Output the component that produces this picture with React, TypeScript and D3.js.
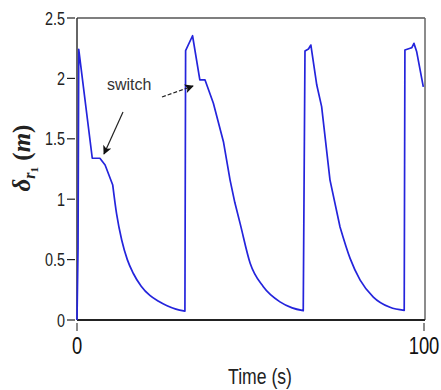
import React from "react";
import * as d3 from "d3";

const time = [
  0, 0.3, 0.5, 4.4, 6.6, 8.1, 10.3, 11.4, 12.9, 14.5, 16.2, 18.5, 21, 23.5, 25.8, 28.5, 31.1,
  31.3, 33.3, 35.4, 36.9, 39.3, 42.2, 44.1, 45.5, 47.0, 49.9, 53.7, 58.5, 62, 65.2,
  65.7, 66.7, 67.4, 69.1, 70.5, 72.9, 75.8, 78.7, 81.6, 85.4, 90.2, 94.3,
  94.5, 96.0, 96.5, 97.1, 97.9, 99.8,
];
const delta = [
  0, 0.6, 2.24, 1.339, 1.339, 1.283, 1.117, 0.88, 0.66, 0.5, 0.387, 0.28, 0.203, 0.155, 0.12, 0.09, 0.074,
  2.23, 2.353, 1.987, 1.987, 1.794, 1.476, 1.16, 0.97, 0.8, 0.47, 0.275, 0.15, 0.1, 0.077,
  2.227, 2.243, 2.276, 1.945, 1.766, 1.16, 0.77, 0.51, 0.33, 0.19, 0.105, 0.08,
  2.235, 2.25, 2.255, 2.29, 2.22, 1.93,
];
const yTicks = [0, 0.5, 1, 1.5, 2, 2.5];
const yTickLabels = ["0", "0.5", "1", "1.5", "2", "2.5"];
const xTicks = [0, 100];
const xTickLabels = ["0", "100"];
const annotationText = "switch";

const SANS = "'Liberation Sans', Arial, sans-serif";

function Narrow(props: { x: number; y: number; size: number; anchor: string; fill: string; children: React.ReactNode }) {
  return (
    <g transform={`translate(${props.x},${props.y}) scale(0.8,1)`}>
      <text x={0} y={0} textAnchor={props.anchor as any} fontFamily={SANS} fontSize={props.size} fill={props.fill}>
        {props.children}
      </text>
    </g>
  );
}

export default function App() {
  const W = 441, H = 390;
  const x = d3.scaleLinear().domain([0, 100]).range([77, 424]);
  const y = d3.scaleLinear().domain([0, 2.5]).range([320, 18]);
  const pts = time.map((t, i) => [t, delta[i]] as [number, number]);

  // split into runs: sharp (rises/peaks) drawn linear, smooth (decays) drawn monotone
  const runs: { smooth: boolean; data: [number, number][] }[] = [];
  for (let i = 0; i < pts.length - 1; i++) {
    const a = pts[i][1], b = pts[i + 1][1];
    const smooth = a < 1.15 && b < 1.15 && b <= a;
    const last = runs[runs.length - 1];
    if (last && last.smooth === smooth) last.data.push(pts[i + 1]);
    else runs.push({ smooth, data: [pts[i], pts[i + 1]] });
  }
  const linLine = d3.line<[number, number]>().x(d => x(d[0])).y(d => y(d[1])).curve(d3.curveLinear);
  const smoothLine = d3.line<[number, number]>().x(d => x(d[0])).y(d => y(d[1])).curve(d3.curveMonotoneX);
  const dPath = runs.map((r, k) => {
    const s = (r.smooth ? smoothLine : linLine)(r.data) || "";
    return k === 0 ? s : s.replace(/^M[^A-Za-z]*/, "L" + `${x(r.data[0][0])},${y(r.data[0][1])}`);
  }).join("");

  return (
    <svg width={W} height={H} style={{ position: "absolute", left: 0, top: 0, background: "#fff" }}>
      <defs>
        <marker id="ah" viewBox="0 0 10 10" refX="9" refY="5" markerWidth="10" markerHeight="9" orient="auto" markerUnits="userSpaceOnUse">
          <path d="M0,0 L10,5 L0,10 L2.5,5 Z" fill="#111" />
        </marker>
      </defs>
      {/* frame */}
      <line x1={77} y1={18} x2={425} y2={18} stroke="#555" strokeWidth={1.5} />
      <line x1={425} y1={18} x2={425} y2={320} stroke="#666" strokeWidth={1.5} />
      <line x1={77} y1={18} x2={77} y2={320} stroke="#333" strokeWidth={1.5} />
      <line x1={77} y1={320} x2={425} y2={320} stroke="#222" strokeWidth={2} />
      {/* y ticks */}
      {yTicks.map((v, i) => (
        <g key={"y" + i}>
          <line x1={67} x2={75} y1={y(v)} y2={y(v)} stroke="#222" strokeWidth={1.2} />
          <Narrow x={65} y={y(v) + 6.5} size={18} anchor="end" fill="#222">
            {yTickLabels[i]}
          </Narrow>
        </g>
      ))}
      {/* x ticks */}
      {xTicks.map((v, i) => (
        <g key={"x" + i}>
          <line x1={x(v)} x2={x(v)} y1={323} y2={331} stroke="#666" strokeWidth={1.5} />
          <Narrow x={x(v)} y={354} size={23} anchor="middle" fill="#111">
            {xTickLabels[i]}
          </Narrow>
        </g>
      ))}
      <Narrow x={260} y={384} size={22} anchor="middle" fill="#222">
        Time (s)
      </Narrow>
      {/* y label */}
      <text transform="translate(30,158) rotate(-90)" textAnchor="middle" fontFamily="'Liberation Serif', 'DejaVu Serif', serif" fontSize={25} fontWeight="bold" fill="#222">
        <tspan fontStyle="italic">δ</tspan>
        <tspan fontStyle="italic" fontSize={16} dy={5}>r</tspan>
        <tspan fontSize={11} dy={3}>1</tspan>
        <tspan dy={-8}> (</tspan>
        <tspan fontStyle="italic">m</tspan>
        <tspan>)</tspan>
      </text>
      {/* data line */}
      <path d={dPath} fill="none" stroke="#2424dc" strokeWidth={1.7} strokeLinejoin="round" />
      {/* annotation */}
      <text x={107} y={90} fontFamily={SANS} fontSize={16} fill="#333">
        {annotationText}
      </text>
      <line x1={123} y1={112} x2={104} y2={154} stroke="#222" strokeWidth={1.2} markerEnd="url(#ah)" />
      <line x1={162} y1={97} x2={193} y2={86} stroke="#222" strokeWidth={1.2} strokeDasharray="4,2" markerEnd="url(#ah)" />
    </svg>
  );
}
